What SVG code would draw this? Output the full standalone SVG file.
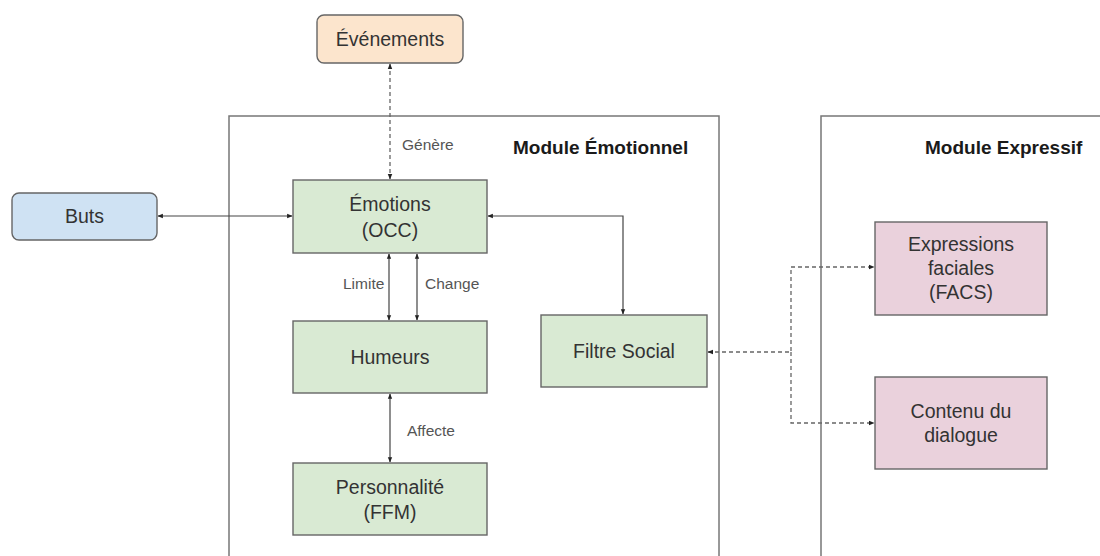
<svg xmlns="http://www.w3.org/2000/svg" width="1100" height="556" viewBox="0 0 1100 556">
<style>
.bg{fill:#ffffff}
.module{fill:#ffffff;stroke:#777;stroke-width:1.5}
.title{font-family:"Liberation Sans",Arial,sans-serif;font-weight:bold;font-size:19px;fill:#1a1a1a}
.node{stroke:#666;stroke-width:1.4}
.green{fill:#d9ead3}
.pink{fill:#ead1dc}
.blue{fill:#cfe2f3}
.orange{fill:#fce5cd}
.t{font-family:"Liberation Sans",Arial,sans-serif;font-size:19.5px;fill:#333;text-anchor:middle}
.lbl{font-family:"Liberation Sans",Arial,sans-serif;font-size:15.5px;fill:#555}
.edge{fill:none;stroke:#444;stroke-width:1.2}
.dash{fill:none;stroke:#666;stroke-width:1.3;stroke-dasharray:4 3}
</style>
<defs>
<marker id="arr" viewBox="0 0 10 10" refX="9" refY="5" markerWidth="4.5" markerHeight="4.5" orient="auto-start-reverse">
<path d="M0,1 L10,5 L0,9 z" fill="#222"/>
</marker>
</defs>
<rect class="bg" x="0" y="0" width="1100" height="556"/>
<g id="module-emotionnel">
<rect class="module" x="229" y="116" width="490" height="460"/>
<text class="title" x="513" y="154">Module Émotionnel</text>
</g>
<g id="module-expressif">
<rect class="module" x="821" y="116" width="300" height="460"/>
<text class="title" x="925" y="154">Module Expressif</text>
</g>
<g id="connectors">
<line class="dash" x1="390" y1="64" x2="390" y2="179" marker-start="url(#arr)" marker-end="url(#arr)"/>
<line class="edge" x1="158" y1="216" x2="292" y2="216" marker-start="url(#arr)" marker-end="url(#arr)"/>
<line class="edge" x1="389" y1="254" x2="389" y2="320" marker-start="url(#arr)" marker-end="url(#arr)"/>
<line class="edge" x1="417" y1="254" x2="417" y2="320" marker-start="url(#arr)" marker-end="url(#arr)"/>
<line class="edge" x1="390" y1="394" x2="390" y2="462" marker-start="url(#arr)" marker-end="url(#arr)"/>
<polyline class="edge" points="488,216 623,216 623,314" marker-start="url(#arr)" marker-end="url(#arr)"/>
<polyline class="dash" points="708,352 791,352 791,267 874,267" marker-start="url(#arr)" marker-end="url(#arr)"/>
<polyline class="dash" points="791,352 791,423 874,423" marker-end="url(#arr)"/>
<text class="lbl" x="402" y="150">Génère</text>
<text class="lbl" x="343" y="289">Limite</text>
<text class="lbl" x="425" y="289">Change</text>
<text class="lbl" x="407" y="436">Affecte</text>
</g>
<g id="evenements">
<rect class="node orange" x="317" y="15" width="146" height="48" rx="7"/>
<text class="t" x="390" y="46">Événements</text>
</g>
<g id="buts">
<rect class="node blue" x="12" y="193" width="145" height="47" rx="7"/>
<text class="t" x="84.5" y="223">Buts</text>
</g>
<g id="emotions">
<rect class="node green" x="293" y="180" width="194" height="73"/>
<text class="t" x="390" y="211">Émotions</text>
<text class="t" x="390" y="237">(OCC)</text>
</g>
<g id="humeurs">
<rect class="node green" x="293" y="321" width="194" height="72"/>
<text class="t" x="390" y="364">Humeurs</text>
</g>
<g id="personnalite">
<rect class="node green" x="293" y="463" width="194" height="72"/>
<text class="t" x="390" y="494">Personnalité</text>
<text class="t" x="390" y="519">(FFM)</text>
</g>
<g id="filtre-social">
<rect class="node green" x="541" y="315" width="166" height="72"/>
<text class="t" x="624" y="358">Filtre Social</text>
</g>
<g id="expressions">
<rect class="node pink" x="875" y="222" width="172" height="93"/>
<text class="t" x="961" y="251">Expressions</text>
<text class="t" x="961" y="275">faciales</text>
<text class="t" x="961" y="299">(FACS)</text>
</g>
<g id="contenu">
<rect class="node pink" x="875" y="377" width="172" height="92"/>
<text class="t" x="961" y="418">Contenu du</text>
<text class="t" x="961" y="442">dialogue</text>
</g>
</svg>
